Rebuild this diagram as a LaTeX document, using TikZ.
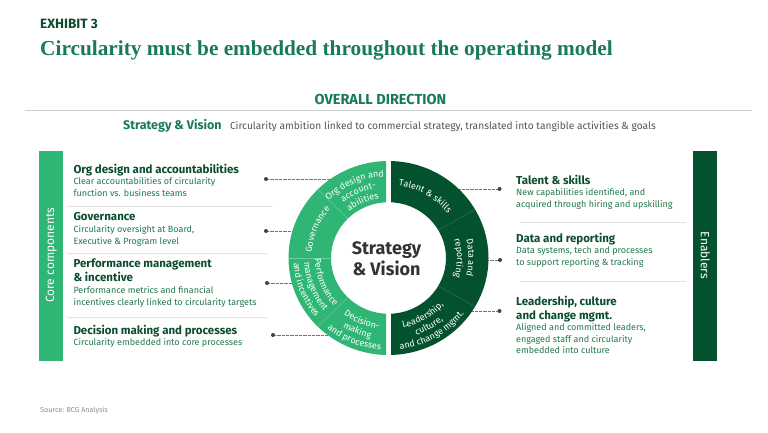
\documentclass[tikz,border=0pt]{standalone}
\usepackage{fontspec}
\setmainfont{Fira Sans}
\newfontfamily\serifb{Liberation Serif}
\usetikzlibrary{decorations.text}
\definecolor{lgreen}{HTML}{2FB574}
\definecolor{dgreen}{HTML}{03522D}
\definecolor{tgreen}{HTML}{197A56}
\definecolor{hdark}{HTML}{0B4D2C}
\definecolor{subg}{HTML}{23784C}
\definecolor{gtext}{HTML}{555555}
\definecolor{sepc}{HTML}{E4E4E4}
\definecolor{ldivc}{HTML}{6CCB9C}
\definecolor{ddivc}{HTML}{2F7050}
\newcommand\fsz[2]{\fontsize{#1}{#2}\selectfont}
\newcommand\rf{\fontsize{9}{10}\selectfont}
\begin{document}
\begin{tikzpicture}[x=1pt,y=1pt,
  hd/.style={anchor=north west, inner sep=0pt, font=\fsz{11.5}{14}\bfseries, text=hdark, align=left},
  sb/.style={anchor=north west, inner sep=0pt, font=\fsz{9}{12}, text=subg, align=left},
  sepline/.style={draw=sepc, line width=0.8pt},
  dotn/.style={circle, fill=black!75, inner sep=0pt, minimum size=4pt},
  conn/.style={draw=black!55, line width=0.5pt, dash pattern=on 0.5pt off 0.8pt},
  ringtxt/.style={decorate, decoration={text along path, text align=center, text color=white, text={|\rf|#1}}},
  ldivline/.style={draw=ldivc, line width=0.5pt},
  ddivline/.style={draw=ddivc, line width=0.5pt}
]
\useasboundingbox (0,0) rectangle (768,-432);
\fill[white] (0,0) rectangle (768,-432);

% header
\node[anchor=base west, inner sep=0pt, font=\fsz{13.5}{15}\bfseries, text=hdark] (exh) at (40,-28) {EXHIBIT 3};
\node[anchor=base west, inner sep=0pt, font=\serifb\bfseries\fsz{21.3}{24}, text=tgreen] (title) at (40,-55) {Circularity must be embedded throughout the operating model};
\node[anchor=base, inner sep=0pt, font=\fsz{14.5}{16}\bfseries, text=tgreen] (od) at (380.5,-104) {OVERALL DIRECTION};
\draw[draw=black!20, line width=0.8pt] (25,-110) -- (752,-110);
\node[anchor=base west, inner sep=0pt, font=\fsz{12.5}{14}\bfseries, text=tgreen] (sv) at (123,-129) {Strategy \& Vision};
\node[anchor=base west, inner sep=0pt, font=\fsz{10.2}{12}, text=gtext] (svd) at ([xshift=8pt]sv.base east) {Circularity ambition linked to commercial strategy, translated into tangible activities \& goals};

% side bars
\node[fill=lgreen, rotate=90, minimum width=210pt, minimum height=24pt, inner sep=0pt, text=white, font=\fsz{12}{14}] (corebar) at (51.3,-255.5) {Core components};
\node[fill=dgreen, rotate=-90, minimum width=210pt, minimum height=24pt, inner sep=0pt, text=white, font=\fsz{12}{14}] (enabar) at (705.3,-255.5) {Enablers};

% left items
\node[hd] (h1) at (73.3,-163.7) {Org design and accountabilities};
\node[sb] (s1) at (73.3,-177) {Clear accountabilities of circularity\\function vs. business teams};
\draw[sepline] (67,-206.7) -- (273,-206.7);
\node[hd] (h2) at (73.3,-211.7) {Governance};
\node[sb] (s2) at (73.3,-225) {Circularity oversight at Board,\\Executive \& Program level};
\draw[sepline] (67,-253.3) -- (267,-253.3);
\node[hd] (h3) at (73.3,-258.7) {Performance management\\\& incentive};
\node[sb] (s3) at (73.3,-286.5) {Performance metrics and financial\\incentives clearly linked to circularity targets};
\draw[sepline] (67,-317.3) -- (267,-317.3);
\node[hd] (h4) at (73.3,-324.7) {Decision making and processes};
\node[sb] (s4) at (73.3,-338.5) {Circularity embedded into core processes};

% right items
\node[hd] (h5) at (516,-174.7) {Talent \& skills};
\node[sb] (s5) at (516,-188.5) {New capabilities identified, and\\acquired through hiring and upskilling};
\draw[sepline] (520,-222.7) -- (686,-222.7);
\node[hd] (h6) at (516,-233) {Data and reporting};
\node[sb] (s6) at (516,-247) {Data systems, tech and processes\\to support reporting \& tracking};
\draw[sepline] (520,-281.7) -- (686,-281.7);
\node[hd] (h7) at (516,-296.4) {Leadership, culture\\and change mgmt.};
\node[sb, font=\fsz{9}{11.5}] (s7) at (516,-323.5) {Aligned and committed leaders,\\engaged staff and circularity\\embedded into culture};

% connectors
\node[dotn] (dl1) at (266,-179) {};
\node[dotn] (dl2) at (266,-231) {};
\node[dotn] (dl3) at (267,-283) {};
\node[dotn] (dl4) at (273,-335) {};
\node[dotn] (dr1) at (499.5,-189) {};
\node[dotn] (dr2) at (500,-260) {};
\node[dotn] (dr3) at (499.5,-311) {};
\coordinate (rl1) at (334,-179);
\coordinate (rl2) at (297,-231);
\coordinate (rl3) at (296,-283);
\coordinate (rl4) at (331,-335);
\coordinate (rr1) at (455,-189);
\coordinate (rr2) at (484,-260);
\coordinate (rr3) at (468,-311);
\draw[conn] (dl1) -- (rl1);
\draw[conn] (dl2) -- (rl2);
\draw[conn] (dl3) -- (rl3);
\draw[conn] (dl4) -- (rl4);
\draw[conn] (dr1) -- (rr1);
\draw[conn] (dr2) -- (rr2);
\draw[conn] (dr3) -- (rr3);

% ring
\begin{scope}[shift={(388.5,-258)}, yscale=0.97]
  \begin{scope}
    \clip (-120,-120) rectangle (-2.5,120);
    \fill[lgreen, even odd rule] (0,0) circle (100) (0,0) circle (57.5);
  \end{scope}
  \begin{scope}
    \clip (2.5,-120) rectangle (120,120);
    \fill[dgreen, even odd rule] (0,0) circle (100) (0,0) circle (57.5);
  \end{scope}
  \foreach \a in {135,180,225} \draw[ldivline] (\a:57.5) -- (\a:100);
  \foreach \a in {30,-30} \draw[ddivline] (\a:57.5) -- (\a:100);
  % org design
  \path[ringtxt={Org design and}] (136.5:84) arc[start angle=136.5, end angle=92, radius=84];
  \path[ringtxt={account-}] (136:73) arc[start angle=136, end angle=92, radius=73];
  \path[ringtxt={abilities}] (136:62) arc[start angle=136, end angle=92, radius=62];
  % governance
  \path[ringtxt={Governance}] (179:77) arc[start angle=179, end angle=136, radius=77];
  % performance
  \path[ringtxt={Performance}] (179:73.5) arc[start angle=179, end angle=224, radius=73.5];
  \path[ringtxt={management}] (179:84.5) arc[start angle=179, end angle=224, radius=84.5];
  \path[ringtxt={and incentives}] (179:95) arc[start angle=179, end angle=224, radius=95];
  % decision
  \path[ringtxt={Decision-}] (226:73.5) arc[start angle=226, end angle=269, radius=73.5];
  \path[ringtxt={making}] (226:84.5) arc[start angle=226, end angle=269, radius=84.5];
  \path[ringtxt={and processes}] (226:95) arc[start angle=226, end angle=269, radius=95];
  % talent
  \path[ringtxt={Talent {\&} skills}] (89:75) arc[start angle=89, end angle=31, radius=75];
  % data
  \path[ringtxt={Data and}] (29:80) arc[start angle=29, end angle=-29, radius=80];
  \path[ringtxt={reporting}] (29:68.5) arc[start angle=29, end angle=-29, radius=68.5];
  % leadership
  \path[ringtxt={Leadership,}] (-89:73.5) arc[start angle=-89, end angle=-31, radius=73.5];
  \path[ringtxt={culture,}] (-89:84.5) arc[start angle=-89, end angle=-31, radius=84.5];
  \path[ringtxt={and change mgmt.}] (-89:95) arc[start angle=-89, end angle=-31, radius=95];
\end{scope}
\node[font=\fsz{18}{21}\bfseries, text=black!80, align=center, inner sep=0pt] (ctr) at (386.5,-259) {Strategy\\\& Vision};

% source
\node[anchor=base west, inner sep=0pt, font=\fsz{7.2}{8}, text=black!45] (src) at (40,-412) {Source: BCG Analysis};
\end{tikzpicture}
\end{document}
